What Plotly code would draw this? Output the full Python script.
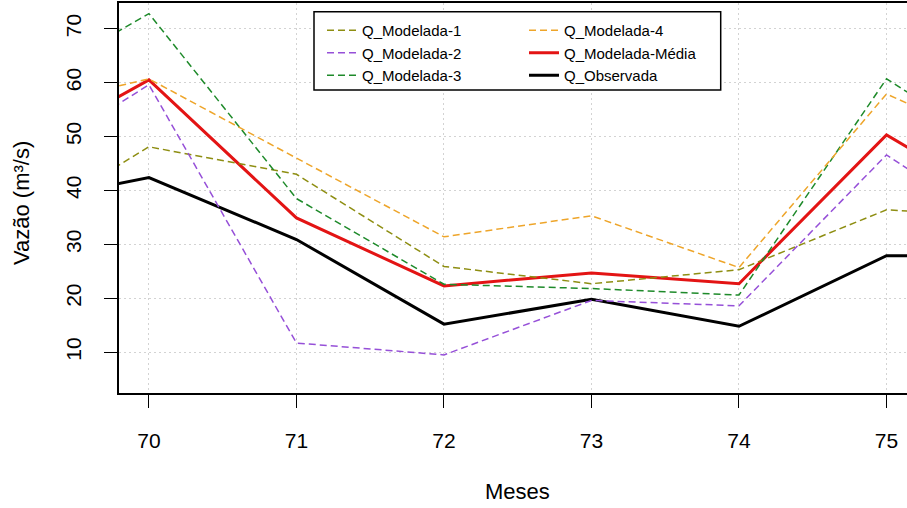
import plotly.graph_objects as go

# ---- data ----
meses = [69, 70, 71, 72, 73, 74, 75, 76]
q_mod_1 = [31.4, 48.1, 43.0, 25.9, 22.7, 25.3, 36.4, 35.0]
q_mod_2 = [42.4, 59.6, 11.7, 9.5, 19.6, 18.6, 46.6, 28.6]
q_mod_3 = [57.1, 72.8, 38.5, 22.6, 21.8, 20.6, 60.7, 43.2]
q_mod_4 = [54.3, 60.7, 46.0, 31.4, 35.3, 25.7, 57.9, 45.5]
q_media = [45.3, 60.5, 34.9, 22.3, 24.7, 22.7, 50.3, 34.3]
q_obs = [37.0, 42.4, 30.9, 15.2, 19.8, 14.8, 27.9, 27.9]

x_ticks = [70, 71, 72, 73, 74, 75]
y_ticks = [10, 20, 30, 40, 50, 60, 70]

W, H = 907, 508
L, R, T, B = 119, 0, 3, 115
PW, PH = W - L - R, H - T - B


def px_x(px):
    return (px - L) / PW


def px_y(py):
    return (H - B - py) / PH


FONT = "Liberation Sans, Arial, sans-serif"
DASH = "7px,4px"

fig = go.Figure()
fig.add_trace(go.Scatter(x=meses, y=q_obs, mode="lines", name="Q_Observada",
                         line=dict(color="black", width=3),
                         legend="legend2", legendrank=3))
fig.add_trace(go.Scatter(x=meses, y=q_media, mode="lines", name="Q_Modelada-Média",
                         line=dict(color="#E31414", width=3),
                         legend="legend2", legendrank=2))
fig.add_trace(go.Scatter(x=meses, y=q_mod_1, mode="lines", name="Q_Modelada-1",
                         line=dict(color="#8E8E12", width=1.5, dash=DASH),
                         legend="legend", legendrank=1))
fig.add_trace(go.Scatter(x=meses, y=q_mod_2, mode="lines", name="Q_Modelada-2",
                         line=dict(color="#9650D8", width=1.5, dash=DASH),
                         legend="legend", legendrank=2))
fig.add_trace(go.Scatter(x=meses, y=q_mod_3, mode="lines", name="Q_Modelada-3",
                         line=dict(color="#1E8A2A", width=1.5, dash=DASH),
                         legend="legend", legendrank=3))
fig.add_trace(go.Scatter(x=meses, y=q_mod_4, mode="lines", name="Q_Modelada-4",
                         line=dict(color="#EEA52A", width=1.5, dash=DASH),
                         legend="legend2", legendrank=1))

axis_common = dict(
    showline=True, linecolor="black", linewidth=1.5,
    ticks="outside", ticklen=13, tickwidth=1.2, tickcolor="black",
    showgrid=True, gridcolor="#D3D3D3", gridwidth=1, griddash="2px,3px",
    zeroline=False, tickfont=dict(family=FONT, size=21, color="black"),
)

fig.update_xaxes(range=[69.797, 75.139], tickvals=x_ticks, mirror=True,
                 ticklabelstandoff=15, **axis_common)
fig.update_yaxes(range=[2.43, 74.77], tickvals=y_ticks, tickangle=-90, mirror=False,
                 ticklabelstandoff=15, **axis_common)

leg_common = dict(xanchor="left", yanchor="top", bgcolor="rgba(0,0,0,0)",
                  borderwidth=0, font=dict(family=FONT, size=15, color="black"),
                  tracegroupgap=0, itemwidth=30, orientation="v")

fig.update_layout(
    width=W, height=H,
    margin=dict(l=L, r=R, t=T, b=B, autoexpand=False),
    paper_bgcolor="white", plot_bgcolor="white",
    font=dict(family=FONT, color="black"),
    showlegend=True,
    legend=dict(x=px_x(322), y=px_y(14), **leg_common),
    legend2=dict(x=px_x(524), y=px_y(14), **leg_common),
    shapes=[dict(type="rect", xref="paper", yref="paper",
                 x0=px_x(314), x1=px_x(720.7), y0=px_y(90), y1=px_y(11.7),
                 line=dict(color="black", width=1.5), fillcolor="white",
                 layer="above")],
    annotations=[
        dict(text="Vazão (m³/s)", xref="paper", yref="paper",
             x=px_x(22), y=px_y(203), xanchor="center", yanchor="middle",
             textangle=-90, showarrow=False, font=dict(family=FONT, size=22)),
        dict(text="Meses", xref="paper", yref="paper",
             x=px_x(517), y=px_y(491), xanchor="center", yanchor="middle",
             showarrow=False, font=dict(family=FONT, size=22)),
    ],
)

fig.write_html("out.html")
